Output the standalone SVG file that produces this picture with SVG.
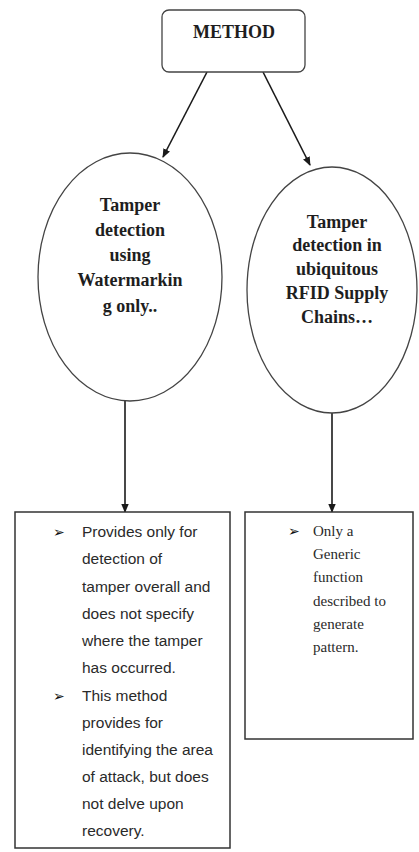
<svg xmlns="http://www.w3.org/2000/svg" width="419" height="852" viewBox="0 0 419 852">
<defs>
<marker id="ah" markerWidth="9" markerHeight="9" refX="8" refY="4.5" orient="auto" markerUnits="userSpaceOnUse">
<path d="M0,0.8 L9,4.5 L0,8.2 z" fill="#1a1a1a"/>
</marker>
<style>
.ttl{font-family:"Liberation Serif","Times New Roman",serif;font-weight:bold;font-size:18px;fill:#1e1e1e;text-anchor:middle}
.sans{font-family:"Liberation Sans",Arial,sans-serif;font-size:15.5px;fill:#2a2a2a}
.ser{font-family:"Liberation Serif","Times New Roman",serif;font-size:15px;fill:#2a2a2a}
.bul{font-family:"DejaVu Sans",sans-serif;font-size:14px;fill:#111}
.shape{fill:#fff;stroke:#444;stroke-width:1.3}
.box{fill:#fff;stroke:#333;stroke-width:1.5}
.conn{stroke:#1a1a1a;stroke-width:1.6;fill:none;marker-end:url(#ah)}
</style>
</defs>
<rect width="419" height="852" fill="#fff"/>
<g id="connectors">
<line class="conn" x1="207" y1="72" x2="163" y2="157"/>
<line class="conn" x1="263" y1="72" x2="310" y2="165"/>
<line class="conn" x1="125" y1="400" x2="125" y2="512"/>
<line class="conn" x1="332" y1="413" x2="332" y2="512"/>
</g>
<g id="method">
<rect class="shape" x="162" y="10" width="143" height="62" rx="7"/>
<text class="ttl" x="234" y="38">METHOD</text>
</g>
<g id="watermarking">
<ellipse class="shape" cx="130" cy="277" rx="92" ry="124"/>
<text class="ttl" x="130" y="211">Tamper</text>
<text class="ttl" x="130" y="236">detection</text>
<text class="ttl" x="130" y="261">using</text>
<text class="ttl" x="130" y="286">Watermarkin</text>
<text class="ttl" x="130" y="312">g only..</text>
</g>
<g id="rfid">
<ellipse class="shape" cx="332" cy="290" rx="85" ry="123"/>
<text class="ttl" x="337" y="228">Tamper</text>
<text class="ttl" x="337" y="251">detection in</text>
<text class="ttl" x="337" y="275">ubiquitous</text>
<text class="ttl" x="337" y="299">RFID Supply</text>
<text class="ttl" x="337" y="323">Chains…</text>
</g>
<g id="left-box">
<rect class="box" x="15" y="512" width="215" height="336"/>
<text class="bul" x="53" y="537">➢</text>
<text class="sans" x="82" y="537">Provides only for</text>
<text class="sans" x="82" y="564">detection of</text>
<text class="sans" x="82" y="592">tamper overall and</text>
<text class="sans" x="82" y="619">does not specify</text>
<text class="sans" x="82" y="646">where the tamper</text>
<text class="sans" x="82" y="673">has occurred.</text>
<text class="bul" x="53" y="701">➢</text>
<text class="sans" x="82" y="701">This method</text>
<text class="sans" x="82" y="728">provides for</text>
<text class="sans" x="82" y="755">identifying the area</text>
<text class="sans" x="82" y="782">of attack, but does</text>
<text class="sans" x="82" y="809">not delve upon</text>
<text class="sans" x="82" y="836">recovery.</text>
</g>
<g id="right-box">
<rect class="box" x="245" y="512" width="168" height="227"/>
<text class="bul" x="288" y="536">➢</text>
<text class="ser" x="313" y="536">Only a</text>
<text class="ser" x="313" y="559">Generic</text>
<text class="ser" x="313" y="582">function</text>
<text class="ser" x="313" y="606">described to</text>
<text class="ser" x="313" y="629">generate</text>
<text class="ser" x="313" y="652">pattern.</text>
</g>
</svg>
